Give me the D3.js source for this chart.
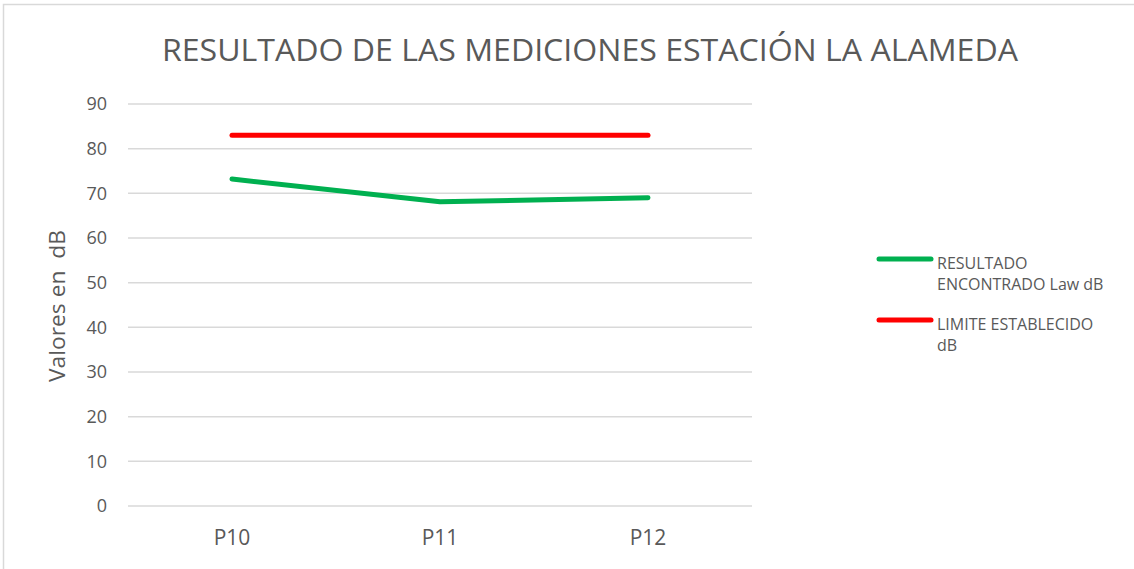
<!DOCTYPE html>
<html><head><meta charset="utf-8">
<script src="https://cdn.jsdelivr.net/npm/d3@7"></script>
<style>body{margin:0;background:#fff;} svg{display:block;font-family:"Open Sans",sans-serif;}</style>
</head><body>
<svg id="c" width="1134" height="569"></svg>
<script>
const categories = ["P10","P11","P12"];
const resultado = [73.2, 68.1, 69.0];
const limite = [83, 83, 83];
const yTicks = [0,10,20,30,40,50,60,70,80,90];
const seriesNames = ["RESULTADO ENCONTRADO Law dB", "LIMITE ESTABLECIDO dB"];
const legendLines = [["RESULTADO","ENCONTRADO Law dB"],["LIMITE ESTABLECIDO","dB"]];
const colors = ["#00b050", "#ff0000"];
const title = "RESULTADO DE LAS MEDICIONES ESTACIÓN LA ALAMEDA";
const yTitle = "Valores en  dB";

const svg = d3.select("#c");
const txt = "#595959";
// chart border
svg.append("path").attr("d","M3.5,569 V4.5 H1134").attr("fill","none").attr("stroke","#d9d9d9").attr("stroke-width",1.5);

const x = d3.scaleBand().domain(categories).range([128,752]);
const y = d3.scaleLinear().domain([0,90]).range([506,104]);

const g = svg.append("g");
g.selectAll("line.grid").data(yTicks).join("line")
  .attr("x1",128).attr("x2",752).attr("y1",d=>y(d)).attr("y2",d=>y(d))
  .attr("stroke","#d9d9d9").attr("stroke-width",1.5);

const ya = svg.append("g").attr("transform","translate(128,0)")
  .call(d3.axisLeft(y).tickValues(yTicks).tickSize(0).tickPadding(21));
ya.select(".domain").remove();
ya.selectAll("text").attr("fill",txt).style("font-size","18px").style("font-family","'Open Sans',sans-serif");

const xa = svg.append("g").attr("transform","translate(0,506)")
  .call(d3.axisBottom(x).tickSize(0).tickPadding(24));
xa.select(".domain").remove();
xa.selectAll("text").attr("fill",txt).style("font-size","21px").style("font-family","'Open Sans',sans-serif");

const line = d3.line().x((d,i)=>x(categories[i])+x.bandwidth()/2).y(d=>y(d));
[resultado, limite].forEach((s,i)=>{
  svg.append("path").attr("d",line(s)).attr("fill","none").attr("stroke",colors[i])
    .attr("stroke-width",5).attr("stroke-linecap","round").attr("stroke-linejoin","round");
});

svg.append("text").attr("x",590).attr("y",61).attr("text-anchor","middle")
  .attr("fill",txt).style("font-size","31px")
  .attr("textLength",856).attr("lengthAdjust","spacingAndGlyphs").text(title);

svg.append("text").attr("transform","translate(65,306) rotate(-90)").attr("text-anchor","middle")
  .attr("fill",txt).style("font-size","21px").style("white-space","pre")
  .attr("xml:space","preserve").attr("textLength",152).attr("lengthAdjust","spacingAndGlyphs").text(yTitle);

const legY = [259, 320];
legendLines.forEach((ls,i)=>{
  svg.append("line").attr("x1",879).attr("x2",931).attr("y1",legY[i]).attr("y2",legY[i])
    .attr("stroke",colors[i]).attr("stroke-width",5).attr("stroke-linecap","round");
  const t = svg.append("text").attr("x",937).attr("y",legY[i]+10).attr("fill",txt).style("font-size","16px");
  ls.forEach((l,j)=>t.append("tspan").attr("x",937).attr("dy",j?21:0).text(l));
});
</script>
</body></html>
